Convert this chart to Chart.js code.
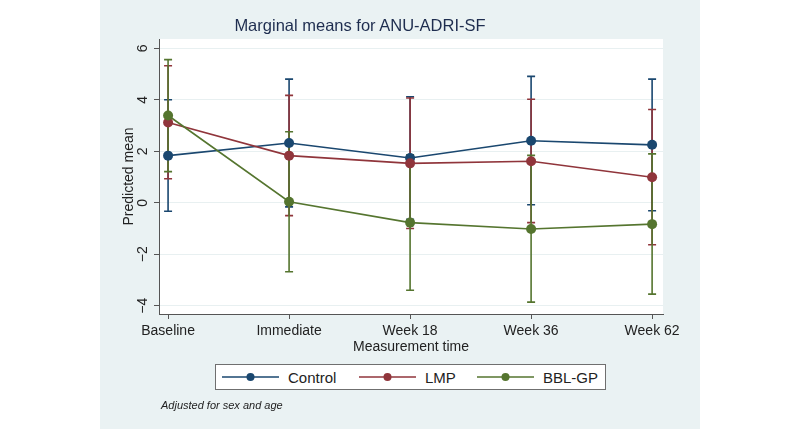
<!DOCTYPE html>
<html>
<head>
<meta charset="utf-8">
<script src="https://cdn.jsdelivr.net/npm/chart.js@4/dist/chart.umd.min.js"></script>
<style>
html,body{margin:0;padding:0;background:#ffffff;}
#wrap{position:relative;width:800px;height:429px;overflow:hidden;font-family:"Liberation Sans",Arial,sans-serif;}
#panel{position:absolute;left:100px;top:0;width:600px;height:429px;background:#eaf2f3;}
#c{position:absolute;left:0;top:0;}
#title{position:absolute;left:0;width:720px;top:15px;text-align:center;font-size:16.5px;line-height:20px;color:#1e2d4f;white-space:nowrap;}
#legend{position:absolute;left:215px;top:364px;width:391px;height:26px;background:#fff;border:1px solid #6f6f6f;box-sizing:border-box;font-size:15px;color:#222;}
#legend .item{display:flex;align-items:center;position:absolute;top:0;height:24px;white-space:nowrap;}
#legend svg{margin-right:9px;flex:none;}
#note{position:absolute;left:161px;top:399px;font-size:11px;font-style:italic;color:#222;white-space:nowrap;}
</style>
</head>
<body>
<div id="wrap">
  <div id="panel"></div>
  <canvas id="c" width="800" height="429"></canvas>
  <div id="title"></div>
  <div id="legend"></div>
  <div id="note"></div>
</div>
<script>
const titleText = "Marginal means for ANU-ADRI-SF";
const noteText = "Adjusted for sex and age";
const xTitle = "Measurement time";
const yTitle = "Predicted mean";
const categories = ["Baseline", "Immediate", "Week 18", "Week 36", "Week 62"];
const yTickValues = [-4, -2, 0, 2, 4, 6];
const yTickLabels = ["\u22124", "\u22122", "0", "2", "4", "6"];
const seriesNames = ["Control", "LMP", "BBL-GP"];
const seriesColors = ["#1a476f", "#90353b", "#55752f"];

const controlMean = [1.83, 2.32, 1.74, 2.41, 2.25];
const controlLow  = [-0.33, -0.16, -0.64, -0.08, -0.31];
const controlHigh = [4.00, 4.80, 4.12, 4.91, 4.80];

const lmpMean = [3.12, 1.83, 1.53, 1.61, 0.99];
const lmpLow  = [0.93, -0.50, -1.00, -0.77, -1.63];
const lmpHigh = [5.32, 4.17, 4.07, 4.02, 3.62];

const bblMean = [3.39, 0.04, -0.77, -1.02, -0.83];
const bblLow  = [1.21, -2.68, -3.40, -3.86, -3.55];
const bblHigh = [5.56, 2.76, 1.86, 1.84, 1.90];

const means = [controlMean, lmpMean, bblMean];
const lows = [controlLow, lmpLow, bblLow];
const highs = [controlHigh, lmpHigh, bblHigh];

document.getElementById('title').textContent = titleText;
document.getElementById('note').textContent = noteText;

// legend
const legendPos = [6, 143, 261];
const legend = document.getElementById('legend');
seriesNames.forEach((n, i) => {
  const it = document.createElement('div');
  it.className = 'item';
  it.style.left = legendPos[i] + 'px';
  it.innerHTML = '<svg width="57" height="12"><line x1="0" y1="6" x2="57" y2="6" stroke="' + seriesColors[i] +
    '" stroke-width="1.5"/><circle cx="28.5" cy="6" r="4" fill="' + seriesColors[i] + '"/></svg><span>' + n + '</span>';
  legend.appendChild(it);
});

const errorBars = {
  id: 'errorBars',
  beforeDraw(chart) {
    const {ctx, chartArea: a} = chart;
    ctx.save();
    ctx.fillStyle = '#ffffff';
    ctx.fillRect(a.left, a.top, a.right - a.left, a.bottom - a.top);
    ctx.restore();
  },
  beforeDatasetsDraw(chart) {
    const ctx = chart.ctx;
    const xs = chart.scales.x, ys = chart.scales.y;
    ctx.save();
    ctx.lineWidth = 1.6;
    for (let s = 0; s < means.length; s++) {
      ctx.strokeStyle = seriesColors[s];
      for (let i = 0; i < categories.length; i++) {
        const x = xs.getPixelForValue(i);
        const y1 = ys.getPixelForValue(lows[s][i]);
        const y2 = ys.getPixelForValue(highs[s][i]);
        ctx.beginPath();
        ctx.moveTo(x, y1); ctx.lineTo(x, y2);
        ctx.moveTo(x - 4, y1); ctx.lineTo(x + 4, y1);
        ctx.moveTo(x - 4, y2); ctx.lineTo(x + 4, y2);
        ctx.stroke();
      }
    }
    ctx.restore();
  },
  afterDraw(chart) {
    const ctx = chart.ctx;
    const ys = chart.scales.y;
    ctx.save();
    ctx.fillStyle = '#222';
    ctx.font = '14px "Liberation Sans", Arial, sans-serif';
    ctx.textAlign = 'center';
    ctx.textBaseline = 'middle';
    yTickValues.forEach((v, i) => {
      const y = ys.getPixelForValue(v);
      ctx.save();
      ctx.translate(143, y);
      ctx.rotate(-Math.PI / 2);
      ctx.fillText(yTickLabels[i], 0, 0);
      ctx.restore();
    });
    ctx.restore();
  }
};

const datasets = seriesNames.map((n, s) => ({
  label: n,
  data: means[s].map((v, i) => ({x: i, y: v})),
  borderColor: seriesColors[s],
  backgroundColor: seriesColors[s],
  borderWidth: 1.6,
  pointRadius: 5,
  pointHoverRadius: 5,
  pointBorderWidth: 0,
  tension: 0,
  order: 3 - s
}));

new Chart(document.getElementById('c'), {
  type: 'line',
  data: {datasets},
  plugins: [errorBars],
  options: {
    responsive: false,
    animation: false,
    events: [],
    layout: {padding: {left: 100, top: 39, right: 137, bottom: 69}},
    plugins: {legend: {display: false}, tooltip: {enabled: false}, title: {display: false}},
    scales: {
      x: {
        type: 'linear',
        min: -0.075,
        max: 4.09,
        afterFit(scale) { scale.height = 46; },
        ticks: {
          stepSize: 1,
          includeBounds: false,
          autoSkip: false,
          maxRotation: 0,
          padding: 4,
          color: '#222',
          font: {family: '"Liberation Sans", Arial, sans-serif', size: 14},
          callback: (v) => Number.isInteger(v) && categories[v] !== undefined ? categories[v] : ''
        },
        grid: {drawOnChartArea: false, drawTicks: true, tickLength: 5, tickColor: '#555', tickWidth: 1},
        border: {display: true, color: '#555', width: 1},
        title: {display: true, text: xTitle, color: '#222', padding: {top: 0, bottom: 4},
                font: {family: '"Liberation Sans", Arial, sans-serif', size: 14}}
      },
      y: {
        type: 'linear',
        min: -4.32,
        max: 6.36,
        afterFit(scale) { scale.width = 59; },
        ticks: {stepSize: 2, includeBounds: false, display: false},
        grid: {color: '#e8f0f1', lineWidth: 1, drawTicks: true, tickLength: 5, tickColor: '#555'},
        border: {display: true, color: '#555', width: 1},
        title: {display: true, text: yTitle, color: '#222', padding: {top: 21, bottom: 0},
                font: {family: '"Liberation Sans", Arial, sans-serif', size: 14}}
      }
    }
  }
});
</script>
</body>
</html>
